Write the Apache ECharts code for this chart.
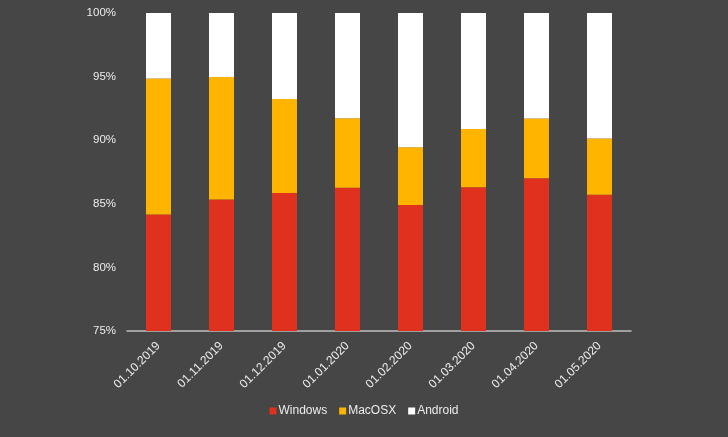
<!DOCTYPE html>
<html>
<head>
<meta charset="utf-8">
<script src="https://cdn.jsdelivr.net/npm/echarts@6/dist/echarts.min.js"></script>
<style>
html,body{margin:0;padding:0;background:#464646;}
#c{width:728px;height:437px;}
</style>
</head>
<body>
<div id="c"></div>
<script>
const categories = ['01.10.2019','01.11.2019','01.12.2019','01.01.2020','01.02.2020','01.03.2020','01.04.2020','01.05.2020'];
const windows = [84.15, 85.34, 85.84, 86.26, 84.90, 86.30, 87.00, 85.71];
const macosx  = [10.71, 9.62, 7.40, 5.46, 4.55, 4.59, 4.70, 4.42];
const android = [5.14, 5.04, 6.76, 8.28, 10.55, 9.11, 8.30, 9.87];
const yTicks = [75, 80, 85, 90, 95, 100];

const chart = echarts.init(document.getElementById('c'));
const font = 'Liberation Sans, Arial, sans-serif';
const textColor = '#ececec';
function bar(name, data, color) {
  return {
    name, type: 'bar', stack: 'total', data, barWidth: 25,
    itemStyle: { color }
  };
}
chart.setOption({
  backgroundColor: '#464646',
  animation: false,
  grid: { left: 127, right: 97, top: 13, bottom: 106 },
  legend: {
    bottom: 15, left: 'center',
    itemWidth: 7, itemHeight: 7, itemGap: 12,
    icon: 'rect',
    textStyle: { color: textColor, fontSize: 12, fontFamily: font, padding: [0,0,0,-3] },
    data: ['Windows', 'MacOSX', 'Android']
  },
  xAxis: {
    type: 'category', data: categories,
    axisLine: { lineStyle: { color: '#bfbfbf', width: 1.5 } },
    axisTick: { show: false },
    axisLabel: { rotate: 45, color: textColor, fontSize: 12, fontFamily: font, margin: 13 }
  },
  yAxis: {
    type: 'value', min: yTicks[0], max: yTicks[yTicks.length-1], interval: 5,
    axisLine: { show: false }, axisTick: { show: false },
    splitLine: { show: false },
    axisLabel: { color: textColor, fontSize: 11.5, fontFamily: font, margin: 11, formatter: v => v + '%' }
  },
  series: [
    bar('Windows', windows, '#E0311E'),
    bar('MacOSX', macosx, '#FFB400'),
    bar('Android', android, '#FFFFFF')
  ]
});
</script>
</body>
</html>
